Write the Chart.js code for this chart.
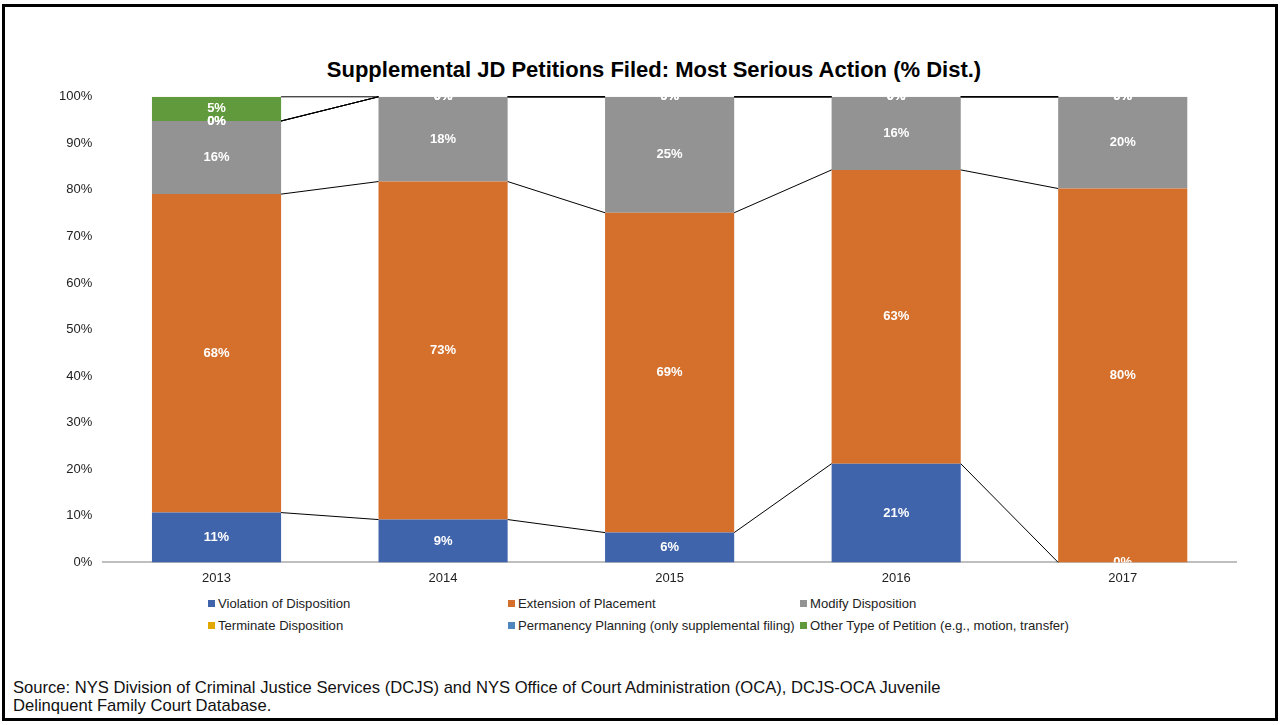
<!DOCTYPE html>
<html>
<head>
<meta charset="utf-8">
<script src="https://cdn.jsdelivr.net/npm/chart.js@4.4.1/dist/chart.umd.min.js"></script>
<style>
  body { margin: 0; background: #fff; font-family: "Liberation Sans", Arial, sans-serif; }
  #frame { position: absolute; left: 2px; top: 4px; width: 1276px; height: 717px; border: 3px solid #000; box-sizing: border-box; }
  #title { position: absolute; left: 0; top: 57px; width: 1308px; text-align: center; font-size: 22px; font-weight: bold; line-height: 26px; color: #000; }
  #wrap { position: absolute; left: 30px; top: 78px; width: 1248px; height: 516px; }
  #legend { position: absolute; left: 0; top: 596px; width: 1283px; height: 44px; }
  .item { position: absolute; font-size: 13.1px; color: #222; white-space: nowrap; line-height: 15px; }
  .item span.box { display: inline-block; width: 7px; height: 7px; margin-right: 3px; vertical-align: 1px; }
  #source { position: absolute; left: 13px; top: 679px; font-size: 16.6px; line-height: 18px; color: #111; }
</style>
</head>
<body>
<div id="frame"></div>
<div id="title">Supplemental JD Petitions Filed: Most Serious Action (% Dist.)</div>
<div id="wrap"><canvas id="chart"></canvas></div>
<div id="legend"></div>
<div id="source">Source: NYS Division of Criminal Justice Services (DCJS) and NYS Office of Court Administration (OCA), DCJS-OCA Juvenile<br>Delinquent Family Court Database.</div>
<script>
const years = ['2013', '2014', '2015', '2016', '2017'];
const violation = [10.7, 9.2, 6.4, 21.2, 0];
const extension = [68.4, 72.6, 68.7, 63.1, 80.3];
const modify = [15.7, 18.2, 24.9, 15.7, 19.7];
const terminate = [0, 0, 0, 0, 0];
const permanency = [0, 0, 0, 0, 0];
const otherType = [5.2, 0, 0, 0, 0];

const seriesNames = [
  'Violation of Disposition',
  'Extension of Placement',
  'Modify Disposition',
  'Terminate Disposition',
  'Permanency Planning (only supplemental filing)',
  'Other Type of Petition (e.g., motion, transfer)'
];
const seriesColors = ['#4064ac', '#d4702c', '#939393', '#e0a800', '#4f86c0', '#619a3c'];
const seriesData = [violation, extension, modify, terminate, permanency, otherType];

// excel style series lines between the stacked bars
const seriesLines = {
  id: 'seriesLines',
  afterDatasetsDraw(chart) {
    const ctx = chart.ctx;
    ctx.save();
    ctx.strokeStyle = '#000';
    ctx.lineWidth = 1;
    chart.data.datasets.forEach((ds, d) => {
      const meta = chart.getDatasetMeta(d);
      for (let i = 0; i < meta.data.length - 1; i++) {
        const a = meta.data[i], b = meta.data[i + 1];
        ctx.beginPath();
        ctx.moveTo(a.x + a.width / 2, a.y);
        ctx.lineTo(b.x - b.width / 2, b.y);
        ctx.stroke();
      }
    });
    ctx.restore();
  }
};

// value labels in the middle of each segment
const segLabels = {
  id: 'segLabels',
  afterDatasetsDraw(chart) {
    const ctx = chart.ctx;
    const area = chart.chartArea;
    ctx.save();
    ctx.beginPath();
    ctx.rect(area.left, area.top, area.right - area.left, area.bottom - area.top);
    ctx.clip();
    ctx.fillStyle = '#fff';
    ctx.font = 'bold 13px "Liberation Sans", Arial, sans-serif';
    ctx.textAlign = 'center';
    ctx.textBaseline = 'middle';
    chart.data.datasets.forEach((ds, d) => {
      const meta = chart.getDatasetMeta(d);
      meta.data.forEach((bar, i) => {
        const v = ds.data[i];
        ctx.fillText(Math.round(v) + '%', bar.x, (bar.y + bar.base) / 2);
      });
    });
    ctx.restore();
  }
};

const chart = new Chart(document.getElementById('chart'), {
  type: 'bar',
  data: {
    labels: years,
    datasets: seriesNames.map((name, k) => ({
      label: name,
      data: seriesData[k],
      backgroundColor: seriesColors[k],
      borderWidth: 0,
      barPercentage: 0.57,
      categoryPercentage: 1
    }))
  },
  options: {
    responsive: true,
    maintainAspectRatio: false,
    animation: false,
    layout: { padding: { top: 8, right: 42, left: 18, bottom: 0 } },
    plugins: {
      legend: { display: false },
      tooltip: { enabled: false },
      title: { display: false }
    },
    scales: {
      x: {
        stacked: true,
        grid: { display: false, drawTicks: false },
        border: { display: true, color: '#bfbfbf', width: 2 },
        ticks: { color: '#222', padding: 8, font: { family: '"Liberation Sans", Arial, sans-serif', size: 13 } }
      },
      y: {
        stacked: true,
        min: 0,
        max: 100,
        grid: { display: false, drawTicks: false },
        border: { display: false },
        ticks: {
          stepSize: 10,
          padding: 11,
          color: '#222',
          font: { family: '"Liberation Sans", Arial, sans-serif', size: 13 },
          callback: v => v + '%'
        }
      }
    }
  },
  plugins: [seriesLines, segLabels]
});

// legend in three columns like the original
const legendCols = [208, 508, 800];
const legendRows = [0, 22];
const legendEl = document.getElementById('legend');
seriesNames.forEach((name, k) => {
  const div = document.createElement('div');
  div.className = 'item';
  div.style.left = legendCols[k % 3] + 'px';
  div.style.top = legendRows[Math.floor(k / 3)] + 'px';
  div.innerHTML = '<span class="box" style="background:' + seriesColors[k] + '"></span>' + name;
  legendEl.appendChild(div);
});
</script>
</body>
</html>
